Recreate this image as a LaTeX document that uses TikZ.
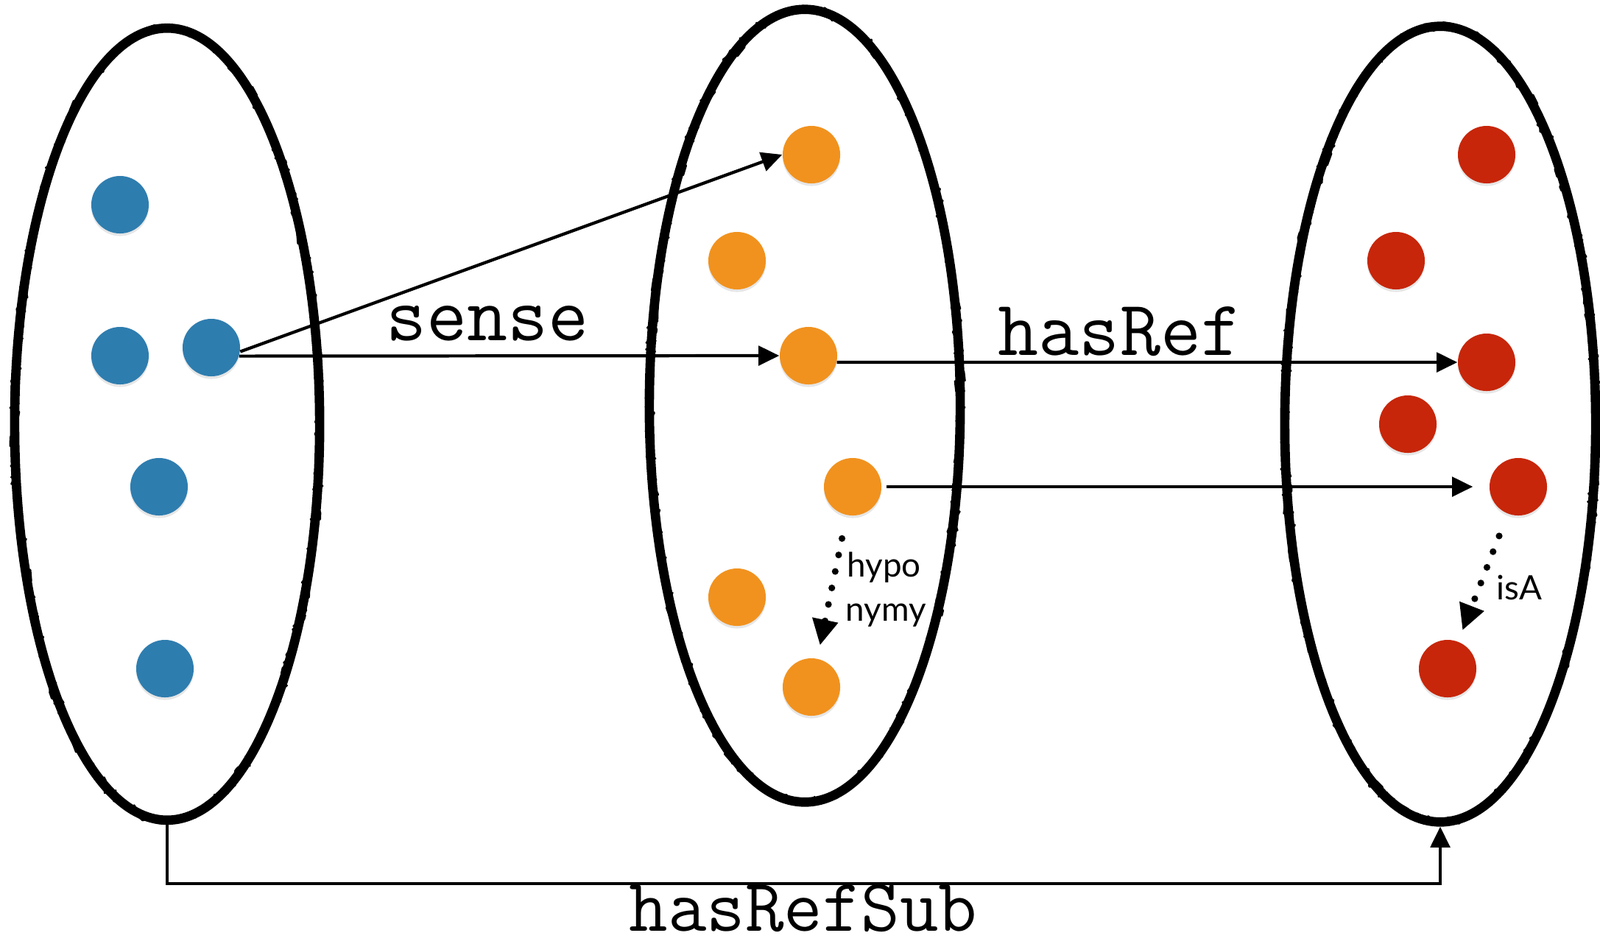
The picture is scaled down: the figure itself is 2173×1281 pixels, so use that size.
\documentclass[tikz,border=0pt]{standalone}
\usepackage{fontspec}
\setsansfont{Lato}
\usetikzlibrary{shapes.geometric, arrows.meta, decorations.pathmorphing, shadows}

\definecolor{wordblue}{RGB}{46,125,175}
\definecolor{senseorange}{RGB}{241,146,30}
\definecolor{refred}{RGB}{199,38,10}

\begin{document}
\begin{tikzpicture}[x=0.01cm, y=-0.01cm,
  set/.style={draw, ellipse, line width=3.6pt, inner sep=0pt, outer sep=1.8pt,
    line join=round,
    postaction={draw, decorate, line width=0.8pt,
      decoration={random steps, segment length=1.5pt, amplitude=1.9pt}}},
  dot/.style={circle, fill=#1, minimum size=0.78cm, inner sep=0pt,
    drop shadow={shadow xshift=0pt, shadow yshift=-1pt, opacity=0.2}},
  rel/.style={line width=1.2pt, -{Triangle[length=8pt, width=7.5pt]}},
  sub/.style={line width=2.6pt, dash pattern=on 0pt off 6.5pt, line cap=round,
    -{Triangle[length=10pt, width=9.5pt]}},
  big/.style={font=\ttfamily\fontsize{30.4}{34}\selectfont, inner sep=0pt, anchor=base},
  small/.style={font=\sffamily\fontsize{13}{15}\selectfont, inner sep=0pt, anchor=base west}]
\useasboundingbox (0,0) rectangle (2173,1281);
% ---------- the three sets ----------
\node[set, minimum width=4.14cm, minimum height=10.75cm] (lset) at (227,576) {};
\node[set, minimum width=4.22cm, minimum height=10.76cm] (mset) at (1093,551) {};
\node[set, minimum width=4.22cm, minimum height=10.80cm] (rset) at (1956,576) {};
% ---------- words ----------
\node[dot=wordblue] (b1) at (163,278) {};
\node[dot=wordblue] (b2) at (163,483) {};
\node[dot=wordblue] (b3) at (287,472) {};
\node[dot=wordblue] (b4) at (216,661) {};
\node[dot=wordblue] (b5) at (224,908) {};
% ---------- senses ----------
\node[dot=senseorange] (o1) at (1102,210) {};
\node[dot=senseorange] (o2) at (1001,354) {};
\node[dot=senseorange] (o3) at (1098,483) {};
\node[dot=senseorange] (o4) at (1158,661) {};
\node[dot=senseorange] (o5) at (1001,811) {};
\node[dot=senseorange] (o6) at (1102,933) {};
% ---------- referents ----------
\node[dot=refred] (r1) at (2019,210) {};
\node[dot=refred] (r2) at (1896,354) {};
\node[dot=refred] (r3) at (2019,492) {};
\node[dot=refred] (r4) at (1912,576) {};
\node[dot=refred] (r5) at (2062,661) {};
\node[dot=refred] (r6) at (1966,908) {};
% ---------- relations ----------
\draw[rel] (b3.-8) -- (o1.west);
\draw[rel] (b3.-17) -- (o3.west);
\draw[rel] (o3.-13) -- (r3.west);
\draw[rel, shorten <=0.06cm, shorten >=0.22cm] (o4.east) -- (r5.west);
\draw[sub, shorten <=0.32cm, shorten >=0.18cm] (o4) -- (o6);
\draw[sub, shorten <=0.32cm, shorten >=0.16cm] (r5) -- (r6);
\draw[rel] (lset.south) -- ++(0,80) -| (rset.south);
% ---------- labels ----------
\node[big] (sensel) at (662,462) {sense};
\node[big] (refl) at (1521,482) {hasRef};
\node[big, font=\ttfamily\fontsize{29}{32}\selectfont] (subl) at (1091,1264) {hasRefSub};
\node[small] (hypol) at (1150,783) {hypo};
\node[small] (nymyl) at (1148,843) {nymy};
\node[small] (isal) at (2032,814) {isA};
\end{tikzpicture}
\end{document}
